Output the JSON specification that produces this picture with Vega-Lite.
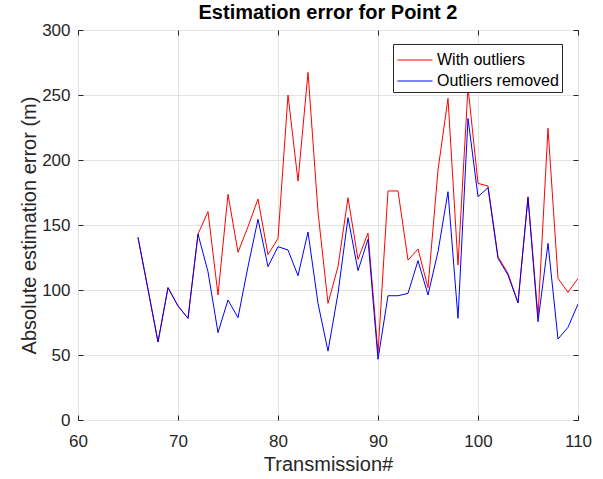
{
  "$schema": "https://vega.github.io/schema/vega-lite/v6.json",
  "width": 500,
  "height": 390,
  "autosize": "none",
  "padding": {"left": 78, "top": 30, "right": 25, "bottom": 59},
  "background": "white",
  "title": {"text": "Estimation error for Point 2", "fontSize": 20, "fontWeight": "bold", "font": "Liberation Sans", "color": "#000000", "offset": -2, "anchor": "middle"},
  "config": {
    "view": {"stroke": "#262626", "strokeWidth": 1},
    "axis": {"labelFont": "Liberation Sans", "titleFont": "Liberation Sans", "labelColor": "#262626", "titleColor": "#262626", "labelFontSize": 17, "titleFontSize": 20, "titleFontWeight": "normal", "tickColor": "#262626", "tickSize": -5, "domain": false, "gridColor": "#e3e3e3", "gridWidth": 1, "labelFlush": false},
    "legend": {"labelFont": "Liberation Sans"}
  },
  "data": {"values": [
    {"t": 66, "series": "With outliers", "err": 140.5},
    {"t": 67, "series": "With outliers", "err": 100.5},
    {"t": 68, "series": "With outliers", "err": 60},
    {"t": 69, "series": "With outliers", "err": 101.8},
    {"t": 70, "series": "With outliers", "err": 87.7},
    {"t": 71, "series": "With outliers", "err": 78.2},
    {"t": 72, "series": "With outliers", "err": 143},
    {"t": 73, "series": "With outliers", "err": 160.3},
    {"t": 74, "series": "With outliers", "err": 96.2},
    {"t": 75, "series": "With outliers", "err": 173.6},
    {"t": 76, "series": "With outliers", "err": 129},
    {"t": 77, "series": "With outliers", "err": 148.7},
    {"t": 78, "series": "With outliers", "err": 170},
    {"t": 79, "series": "With outliers", "err": 127.2},
    {"t": 80, "series": "With outliers", "err": 139.7},
    {"t": 81, "series": "With outliers", "err": 250},
    {"t": 82, "series": "With outliers", "err": 183.8},
    {"t": 83, "series": "With outliers", "err": 267.4},
    {"t": 84, "series": "With outliers", "err": 160},
    {"t": 85, "series": "With outliers", "err": 89.7},
    {"t": 86, "series": "With outliers", "err": 118},
    {"t": 87, "series": "With outliers", "err": 171},
    {"t": 88, "series": "With outliers", "err": 123.6},
    {"t": 89, "series": "With outliers", "err": 143.8},
    {"t": 90, "series": "With outliers", "err": 51.3},
    {"t": 91, "series": "With outliers", "err": 176.2},
    {"t": 92, "series": "With outliers", "err": 176.2},
    {"t": 93, "series": "With outliers", "err": 123},
    {"t": 94, "series": "With outliers", "err": 131.5},
    {"t": 95, "series": "With outliers", "err": 101.8},
    {"t": 96, "series": "With outliers", "err": 192.3},
    {"t": 97, "series": "With outliers", "err": 247.4},
    {"t": 98, "series": "With outliers", "err": 119.2},
    {"t": 99, "series": "With outliers", "err": 256},
    {"t": 100, "series": "With outliers", "err": 182},
    {"t": 101, "series": "With outliers", "err": 180},
    {"t": 102, "series": "With outliers", "err": 125.6},
    {"t": 103, "series": "With outliers", "err": 112.8},
    {"t": 104, "series": "With outliers", "err": 90.3},
    {"t": 105, "series": "With outliers", "err": 171.8},
    {"t": 106, "series": "With outliers", "err": 79.5},
    {"t": 107, "series": "With outliers", "err": 224.4},
    {"t": 108, "series": "With outliers", "err": 109},
    {"t": 109, "series": "With outliers", "err": 98.2},
    {"t": 110, "series": "With outliers", "err": 109},
    {"t": 66, "series": "Outliers removed", "err": 140.5},
    {"t": 67, "series": "Outliers removed", "err": 100.5},
    {"t": 68, "series": "Outliers removed", "err": 60},
    {"t": 69, "series": "Outliers removed", "err": 101.8},
    {"t": 70, "series": "Outliers removed", "err": 87.7},
    {"t": 71, "series": "Outliers removed", "err": 78.2},
    {"t": 72, "series": "Outliers removed", "err": 143},
    {"t": 73, "series": "Outliers removed", "err": 114},
    {"t": 74, "series": "Outliers removed", "err": 67.2},
    {"t": 75, "series": "Outliers removed", "err": 92.3},
    {"t": 76, "series": "Outliers removed", "err": 78.7},
    {"t": 77, "series": "Outliers removed", "err": 118},
    {"t": 78, "series": "Outliers removed", "err": 154.4},
    {"t": 79, "series": "Outliers removed", "err": 118},
    {"t": 80, "series": "Outliers removed", "err": 133.3},
    {"t": 81, "series": "Outliers removed", "err": 130.8},
    {"t": 82, "series": "Outliers removed", "err": 111},
    {"t": 83, "series": "Outliers removed", "err": 144.6},
    {"t": 84, "series": "Outliers removed", "err": 89.7},
    {"t": 85, "series": "Outliers removed", "err": 53},
    {"t": 86, "series": "Outliers removed", "err": 97.4},
    {"t": 87, "series": "Outliers removed", "err": 155.6},
    {"t": 88, "series": "Outliers removed", "err": 114.9},
    {"t": 89, "series": "Outliers removed", "err": 139},
    {"t": 90, "series": "Outliers removed", "err": 46.7},
    {"t": 91, "series": "Outliers removed", "err": 95.6},
    {"t": 92, "series": "Outliers removed", "err": 95.6},
    {"t": 93, "series": "Outliers removed", "err": 97.4},
    {"t": 94, "series": "Outliers removed", "err": 122.6},
    {"t": 95, "series": "Outliers removed", "err": 96.2},
    {"t": 96, "series": "Outliers removed", "err": 129.5},
    {"t": 97, "series": "Outliers removed", "err": 175.6},
    {"t": 98, "series": "Outliers removed", "err": 78.2},
    {"t": 99, "series": "Outliers removed", "err": 232},
    {"t": 100, "series": "Outliers removed", "err": 171.8},
    {"t": 101, "series": "Outliers removed", "err": 178.7},
    {"t": 102, "series": "Outliers removed", "err": 124.4},
    {"t": 103, "series": "Outliers removed", "err": 111.5},
    {"t": 104, "series": "Outliers removed", "err": 90},
    {"t": 105, "series": "Outliers removed", "err": 171},
    {"t": 106, "series": "Outliers removed", "err": 75.6},
    {"t": 107, "series": "Outliers removed", "err": 135.9},
    {"t": 108, "series": "Outliers removed", "err": 62.3},
    {"t": 109, "series": "Outliers removed", "err": 71.3},
    {"t": 110, "series": "Outliers removed", "err": 89.2}
  ]},
  "layer": [
    {
      "mark": {"type": "line", "strokeWidth": 1, "clip": true},
      "encoding": {
        "x": {"field": "t", "type": "quantitative", "scale": {"domain": [60, 110], "nice": false, "zero": false},
          "axis": {"values": [60, 70, 80, 90, 100, 110], "title": "Transmission#", "labelPadding": 18, "titlePadding": 5}},
        "y": {"field": "err", "type": "quantitative", "scale": {"domain": [0, 300], "nice": false},
          "axis": {"values": [0, 50, 100, 150, 200, 250, 300], "title": "Absolute estimation error (m)", "labelPadding": 13, "titlePadding": 2}},
        "color": {"field": "series", "type": "nominal",
          "scale": {"domain": ["With outliers", "Outliers removed"], "range": ["#ff0000", "#0000ff"]},
          "legend": {"title": null, "orient": "none", "legendX": 315, "legendY": 14, "symbolType": "M-1.4,0L1.4,0", "symbolSize": 625, "symbolStrokeWidth": 1, "symbolOffset": 6, "labelFontSize": 16, "labelColor": "#000000", "labelOffset": 9, "rowPadding": -2, "padding": 3, "strokeColor": "#262626", "fillColor": "#ffffff"}}
      }
    },
    {
      "mark": {"type": "line", "opacity": 0},
      "encoding": {
        "x": {"field": "t", "type": "quantitative", "axis": {"orient": "top", "values": [60, 70, 80, 90, 100, 110], "labels": false, "grid": false, "title": null, "minExtent": 0, "maxExtent": 0}},
        "y": {"field": "err", "type": "quantitative", "axis": {"orient": "right", "values": [0, 50, 100, 150, 200, 250, 300], "labels": false, "grid": false, "title": null, "minExtent": 0, "maxExtent": 0}},
        "detail": {"field": "series"}
      }
    }
  ],
  "resolve": {"axis": {"x": "independent", "y": "independent"}}
}
